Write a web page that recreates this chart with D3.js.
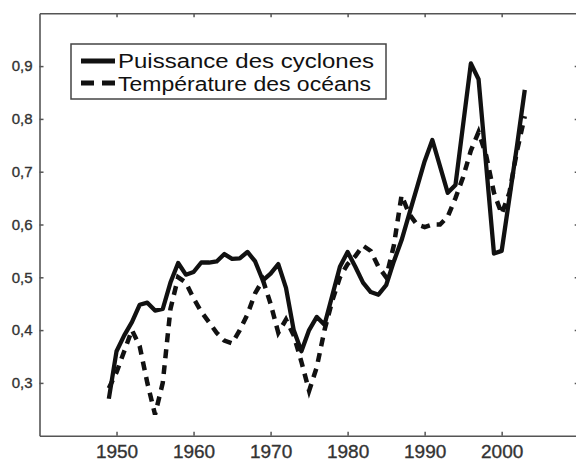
<!DOCTYPE html>
<html>
<head>
<meta charset="utf-8">
<script src="https://cdn.jsdelivr.net/npm/d3@7"></script>
<style>
  html, body { margin: 0; padding: 0; background: #fff; }
  svg { display: block; }
</style>
</head>
<body>
<svg id="chart" width="576" height="461"></svg>
<script>
// ---- data ----
const years = [1949,1950,1951,1952,1953,1954,1955,1956,1957,1958,1959,
  1960,1961,1962,1963,1964,1965,1966,1967,1968,1969,
  1970,1971,1972,1973,1974,1975,1976,1977,1978,1979,
  1980,1981,1982,1983,1984,1985,1986,1987,1988,1989,
  1990,1991,1992,1993,1994,1995,1996,1997,1998,1999,
  2000,2001,2002,2003];
const puissance = [0.27,0.36,0.39,0.415,0.448,0.452,0.437,0.44,0.49,0.527,0.505,
  0.51,0.528,0.528,0.53,0.544,0.535,0.536,0.548,0.53,0.494,
  0.507,0.525,0.48,0.40,0.36,0.40,0.425,0.41,0.465,0.52,
  0.548,0.52,0.49,0.472,0.467,0.485,0.53,0.57,0.62,0.67,
  0.72,0.76,0.71,0.66,0.675,0.79,0.905,0.875,0.71,0.545,
  0.55,0.65,0.75,0.855];
const temperature = [0.29,0.32,0.36,0.40,0.37,0.30,0.24,0.30,0.44,0.50,0.49,
  0.46,0.435,0.415,0.395,0.38,0.375,0.40,0.43,0.47,0.495,
  0.45,0.395,0.42,0.39,0.34,0.285,0.33,0.40,0.455,0.50,
  0.525,0.54,0.56,0.55,0.52,0.50,0.56,0.655,0.62,0.60,
  0.595,0.60,0.60,0.615,0.65,0.69,0.74,0.775,0.73,0.66,
  0.62,0.66,0.74,0.805];
const xTicks = [1950,1960,1970,1980,1990,2000];
const yTicks = [0.3,0.4,0.5,0.6,0.7,0.8,0.9];
const xDomain = [1940, 2010];
const yDomain = [0.2, 1.0];
const seriesNames = ["Puissance des cyclones", "Température des océans"];

// ---- layout ----
const svg = d3.select("#chart");
const mLeft = 39.5, mRight = 578.7, mTop = 13.3, mBottom = 435.7;
const x = d3.scaleLinear().domain(xDomain).range([mLeft, mRight]);
const y = d3.scaleLinear().domain(yDomain).range([mBottom, mTop]);
const fmtY = d => d3.format(".1f")(d).replace(".", ",");

const axisColor = "#555";
function styleAxis(g) {
  g.select(".domain").attr("stroke", axisColor).attr("stroke-width", 1.6);
  g.selectAll(".tick line").attr("stroke", axisColor).attr("stroke-width", 1.5);
  g.selectAll(".tick text").attr("fill", "#333")
    .attr("stroke", "#333").attr("stroke-width", 0.35)
    .attr("font-family", "'Liberation Sans', Arial, sans-serif");
}

// bottom axis
svg.append("g").attr("transform", `translate(0,${mBottom})`)
  .call(d3.axisBottom(x).tickValues(xTicks).tickFormat(d3.format("d"))
    .tickSizeInner(-4).tickSizeOuter(0).tickPadding(9))
  .call(styleAxis)
  .call(g => g.selectAll(".tick text").attr("font-size", 19));

// top axis
svg.append("g").attr("transform", `translate(0,${mTop})`)
  .call(d3.axisTop(x).tickValues(xTicks).tickFormat("")
    .tickSizeInner(-4).tickSizeOuter(0))
  .call(styleAxis);

// left axis
svg.append("g").attr("transform", `translate(${mLeft},0)`)
  .call(d3.axisLeft(y).tickValues(yTicks).tickFormat(fmtY)
    .tickSizeInner(-4).tickSizeOuter(0).tickPadding(7))
  .call(styleAxis)
  .call(g => g.selectAll(".tick text").attr("font-size", 15));

// right axis
svg.append("g").attr("transform", `translate(${mRight},0)`)
  .call(d3.axisRight(y).tickValues(yTicks).tickFormat("")
    .tickSizeInner(-4).tickSizeOuter(0))
  .call(styleAxis);

// ---- lines ----
const line = d3.line().x((d, i) => x(years[i])).y(d => y(d));

svg.append("path").datum(puissance)
  .attr("d", line)
  .attr("fill", "none").attr("stroke", "#111")
  .attr("stroke-width", 4.3).attr("stroke-linejoin", "round");

svg.append("path").datum(temperature)
  .attr("d", line)
  .attr("fill", "none").attr("stroke", "#111")
  .attr("stroke-width", 4.5).attr("stroke-dasharray", "9,7");

// ---- legend ----
const lg = svg.append("g");
lg.append("rect").attr("x", 71).attr("y", 44).attr("width", 315).attr("height", 55)
  .attr("fill", "#fff").attr("stroke", "#444").attr("stroke-width", 1.5);
lg.append("line").attr("x1", 81).attr("x2", 115).attr("y1", 61).attr("y2", 61)
  .attr("stroke", "#111").attr("stroke-width", 5);
lg.append("line").attr("x1", 81).attr("x2", 115).attr("y1", 83).attr("y2", 83)
  .attr("stroke", "#111").attr("stroke-width", 5).attr("stroke-dasharray", "13,8");
lg.append("text").attr("x", 118).attr("y", 68).text(seriesNames[0])
  .attr("font-family", "'Liberation Sans', Arial, sans-serif").attr("font-size", 20)
  .attr("fill", "#111").attr("textLength", 256).attr("lengthAdjust", "spacingAndGlyphs");
lg.append("text").attr("x", 118).attr("y", 91).text(seriesNames[1])
  .attr("font-family", "'Liberation Sans', Arial, sans-serif").attr("font-size", 20)
  .attr("fill", "#111").attr("textLength", 253).attr("lengthAdjust", "spacingAndGlyphs");
</script>
</body>
</html>
